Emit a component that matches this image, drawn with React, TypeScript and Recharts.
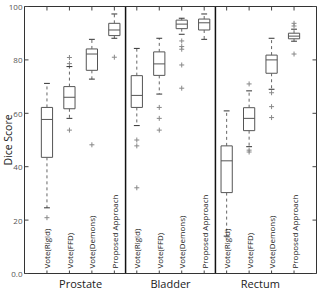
import React from 'react';
import {
  ComposedChart,
  XAxis,
  YAxis,
  Scatter,
  ReferenceArea,
  ReferenceLine,
} from 'recharts';

// Groups and methods
const panels = ['Prostate', 'Bladder', 'Rectum'];
const methods = ['Vote(Rigid)', 'Vote(FFD)', 'Vote(Demons)', 'Proposed Approach'];
const panelCenters = [2.5, 6.5, 10.5];
const yTicks = [0, 20, 40, 60, 80, 100];
const yTickLabels = ['0.0', '20', '40', '60', '80', '100'];

// Box statistics per method: [lower whisker, Q1, median, Q3, upper whisker]
const prostateStats = [
  [24.6, 43.5, 57.7, 62.2, 71.2],
  [58.1, 61.7, 66.0, 70.0, 77.5],
  [72.8, 76.1, 82.2, 84.1, 87.7],
  [88.1, 89.1, 91.2, 93.7, 97.2],
];
const bladderStats = [
  [55.4, 62.2, 66.7, 74.1, 84.3],
  [67.2, 74.2, 78.5, 83.0, 88.1],
  [89.6, 91.7, 93.4, 94.9, 95.6],
  [87.7, 91.2, 93.9, 95.3, 97.2],
];
const rectumStats = [
  [14.0, 30.3, 42.2, 47.8, 60.9],
  [47.5, 53.5, 58.1, 62.1, 68.4],
  [69.0, 75.0, 80.0, 81.8, 88.1],
  [87.0, 87.9, 88.9, 90.0, 91.5],
];

// Outlying cases per method
const prostateOutliers = [[20.9], [78.6, 80.9, 53.7], [48.2], [81.0]];
const bladderOutliers = [[50.0, 47.8, 32.1], [62.2, 58.1, 53.7], [87.1, 85.0, 84.0, 78.1, 69.4], []];
const rectumOutliers = [[], [71.0, 46.2, 45.5], [67.7, 62.5, 58.4], [93.7, 92.7, 82.2]];

const allStats = [prostateStats, bladderStats, rectumStats];
const allOutliers = [prostateOutliers, bladderOutliers, rectumOutliers];

const FONT = '"Open Sans", "DejaVu Sans", sans-serif';
const BOX_HALF = 0.25;
const CAP_HALF = 0.13;
const positions = allStats.flatMap((group, p) => group.map((_, m) => p * 4 + m + 1));
const bottomTicks = [...positions, ...panelCenters].sort((a, b) => a - b);

const outlierData = allOutliers.flatMap((group, p) =>
  group.flatMap((vals, m) => vals.map((v) => ({ x: p * 4 + m + 1, y: v })))
);

const AX = { xAxisId: 'box', yAxisId: 'left' } as const;
const BOX_STROKE = '#555';
const WHISKER_STROKE = '#666';

function buildBoxes() {
  const out: React.ReactElement[] = [];
  allStats.forEach((group, p) => {
    group.forEach(([lo, q1, med, q3, hi], m) => {
      const x = p * 4 + m + 1;
      const k = `${p}-${m}`;
      out.push(
        <ReferenceArea key={`b${k}`} {...AX} x1={x - BOX_HALF} x2={x + BOX_HALF} y1={q1} y2={q3}
          fill="#fff" fillOpacity={0} stroke={BOX_STROKE} strokeWidth={1} ifOverflow="visible" />
      );
      out.push(
        <ReferenceLine key={`m${k}`} {...AX} segment={[{ x: x - BOX_HALF, y: med }, { x: x + BOX_HALF, y: med }]}
          stroke={BOX_STROKE} strokeWidth={1} ifOverflow="visible" />
      );
      out.push(
        <ReferenceLine key={`wu${k}`} {...AX} segment={[{ x, y: q3 }, { x, y: hi }]}
          stroke={WHISKER_STROKE} strokeWidth={1} strokeDasharray="3 3" ifOverflow="visible" />
      );
      out.push(
        <ReferenceLine key={`wl${k}`} {...AX} segment={[{ x, y: q1 }, { x, y: lo }]}
          stroke={WHISKER_STROKE} strokeWidth={1} strokeDasharray="3 3" ifOverflow="visible" />
      );
      out.push(
        <ReferenceLine key={`cu${k}`} {...AX} segment={[{ x: x - CAP_HALF, y: hi }, { x: x + CAP_HALF, y: hi }]}
          stroke="#333" strokeWidth={1} ifOverflow="visible" />
      );
      out.push(
        <ReferenceLine key={`cl${k}`} {...AX} segment={[{ x: x - CAP_HALF, y: lo }, { x: x + CAP_HALF, y: lo }]}
          stroke="#333" strokeWidth={1} ifOverflow="visible" />
      );
    });
  });
  return out;
}

const PlusMark = (props: any) => {
  const { cx, cy } = props;
  if (cx == null || cy == null) return null;
  return (
    <g stroke="#888" strokeWidth={1}>
      <line x1={cx - 2.5} x2={cx + 2.5} y1={cy} y2={cy} />
      <line x1={cx} x2={cx} y1={cy - 2.5} y2={cy + 2.5} />
    </g>
  );
};

const LeftTick = (props: any) => {
  const { x, y, index } = props;
  return (
    <g>
      <line x1={x} x2={x + 4} y1={y} y2={y} stroke="#444" />
      <text x={x - 2} y={y} textAnchor="end" dominantBaseline="central"
        fontFamily={FONT} fontSize={8} fill="#555">
        {yTickLabels[index]}
      </text>
    </g>
  );
};

const RightTick = (props: any) => {
  const { x, y } = props;
  return <line x1={x} x2={x - 4} y1={y} y2={y} stroke="#444" />;
};

const TopTick = (props: any) => {
  const { x, y } = props;
  return <line x1={x} x2={x} y1={y} y2={y + 4} stroke="#444" />;
};

// Method names sit rotated inside the plot; group names go below the axis
const BottomTick = (props: any) => {
  const { x, y, payload } = props;
  const v = payload.value as number;
  const pi = panelCenters.indexOf(v);
  if (pi >= 0) {
    return (
      <text x={x} y={y + 14} textAnchor="middle" fontFamily={FONT} fontSize={11} fill="#222">
        {panels[pi]}
      </text>
    );
  }
  const label = methods[(v - 1) % 4];
  const by = y - 5;
  return (
    <g>
      <line x1={x} x2={x} y1={y} y2={y - 3} stroke="#444" />
      <text x={x} y={by} transform={`rotate(-90 ${x} ${by})`} textAnchor="start"
        dominantBaseline="central" fontFamily={FONT} fontSize={8} fill="#222">
        {label}
      </text>
    </g>
  );
};

const YTitle = (props: any) => {
  const vb = props.viewBox || { x: 0, y: 0, height: 0 };
  const cx = 8;
  const cy = vb.y + vb.height / 2;
  return (
    <text x={cx} y={cy} transform={`rotate(-90 ${cx} ${cy})`} textAnchor="middle"
      dominantBaseline="central" fontFamily={FONT} fontSize={10.5} fill="#222">
      Dice Score
    </text>
  );
};

export default function App() {
  return (
    <div style={{ position: 'absolute', left: 0, top: 0, width: 321, height: 294, background: '#fff' }}>
      <ComposedChart width={321} height={294} margin={{ top: 5.5, right: 3.5, bottom: 0, left: 0 }}>
        <XAxis xAxisId="box" type="number" dataKey="x" domain={[0, 13]} ticks={bottomTicks}
          height={20.5} tickSize={0} tickMargin={0} tick={<BottomTick />} interval={0}
          axisLine={{ stroke: '#333' }} tickLine={false} allowDataOverflow />
        <XAxis xAxisId="top" orientation="top" type="number" dataKey="x" domain={[0, 13]} ticks={positions}
          height={1} tickSize={0} tickMargin={0} tick={<TopTick />} interval={0}
          axisLine={{ stroke: '#333' }} tickLine={false} allowDataOverflow />
        <YAxis yAxisId="left" type="number" dataKey="y" domain={[0, 100]} ticks={yTicks}
          width={24.5} tickSize={0} tickMargin={0} tick={<LeftTick />} interval={0}
          axisLine={{ stroke: '#333' }} tickLine={false} allowDataOverflow
          label={<YTitle />} />
        <YAxis yAxisId="right" orientation="right" type="number" dataKey="y" domain={[0, 100]} ticks={yTicks}
          width={1} tickSize={0} tickMargin={0} tick={<RightTick />} interval={0}
          axisLine={{ stroke: '#333' }} tickLine={false} allowDataOverflow />
        {buildBoxes()}
        <ReferenceLine {...AX} x={4.5} stroke="#111" strokeWidth={1.5} />
        <ReferenceLine {...AX} x={8.5} stroke="#111" strokeWidth={1.5} />
        <Scatter {...AX} data={outlierData} dataKey="y" shape={<PlusMark />} isAnimationActive={false} />
        <Scatter xAxisId="top" yAxisId="right" data={[]} dataKey="y" isAnimationActive={false} />
      </ComposedChart>
    </div>
  );
}
